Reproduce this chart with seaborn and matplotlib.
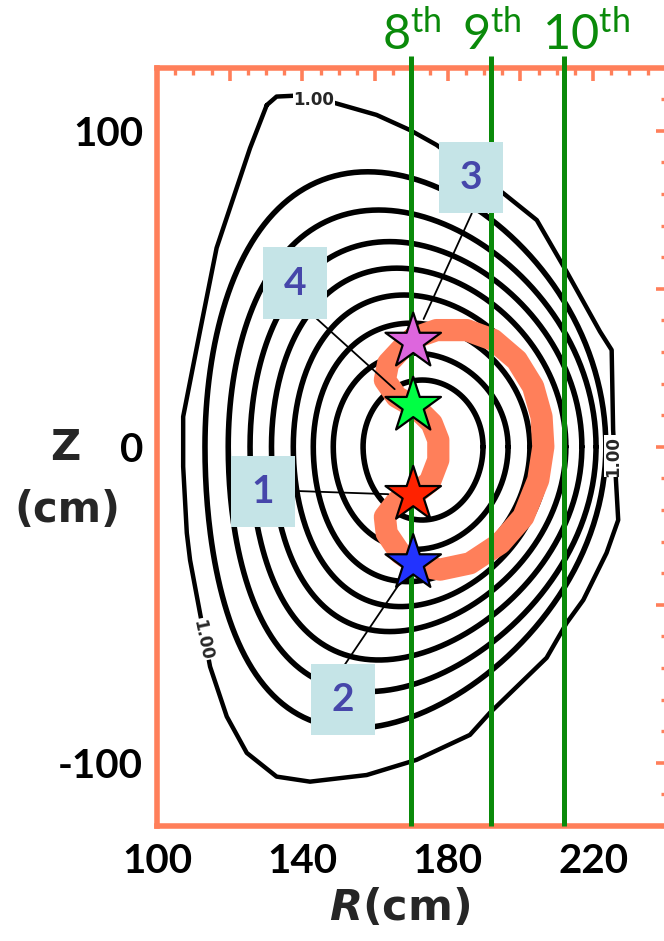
import numpy as np
import pandas as pd
import matplotlib
matplotlib.use("Agg")
import matplotlib.pyplot as plt
from matplotlib.patches import Rectangle
from matplotlib.ticker import FixedLocator, MultipleLocator
import seaborn as sns

# nested flux surfaces, innermost first (cm)
surf_r_in = [156.7, 148.5, 143.0, 137.5, 131.5, 125.6, 119.6, 113.2]
surf_r_out = [189.7, 196.6, 202.6, 207.8, 212.5, 216.9, 220.8, 223.5]
surf_z_top = [21.1, 29.6, 39.1, 48.0, 56.5, 64.9, 74.9, 87.0]
surf_z_bot = [-23.2, -32.5, -42.7, -50.6, -58.5, -67.5, -77.5, -89.1]
surf_r_top = [173, 171, 170, 168, 166, 164, 161, 158]
surf_r_bot = [173, 171, 169, 167, 164, 161, 158, 154]

# last closed surface (labelled 1.00)
lcfs_r = [130.2, 132.9, 138.4, 147.6, 160.4, 169.6, 176.9, 195.3, 204.5, 212.7,
          221.9, 225.1, 225.5, 226.9, 223.7, 217.3, 212.7, 207.2, 191.6, 186.1,
          171.4, 157.7, 142.1, 132.9, 124.7, 119.2, 114.6, 109.1, 108.2, 107.2,
          107.2, 111.8, 116.4, 125.6, 130.2]
lcfs_z = [108.1, 110.8, 111.1, 109.2, 105.0, 100.2, 95.5, 80.2, 71.7, 55.4,
          36.4, 30.6, 5.3, -23.2, -33.6, -48.5, -55.8, -66.8, -84.2, -91.2,
          -99.1, -103.9, -106.0, -104.4, -96.9, -85.4, -69.6, -35.9, -27.3, -6.3,
          9.5, 36.4, 62.9, 94.5, 108.1]

# mode structure (salmon band)
mode_r = [170.5, 176.9, 185.2, 192.5, 199.0, 203.5, 205.8, 206.3, 204.9, 200.8,
          194.4, 186.1, 177.9, 171.4, 166.9, 163.2, 162.7, 165.9, 170.5, 175.1,
          177.4, 177.4, 175.6, 171.4, 165.9, 162.7, 163.6, 167.8, 170.5]
mode_z = [34.3, 36.9, 36.9, 33.8, 27.4, 19.0, 9.5, 0.0, -10.5, -22.2,
          -30.6, -36.9, -38.9, -37.4, -33.7, -27.4, -22.2, -17.4, -15.3, -11.1,
          -4.2, 2.1, 7.4, 12.2, 15.8, 21.1, 26.4, 31.6, 34.3]

# ECE harmonic chords
chord_r = [170, 192, 212]
chord_names = ["8", "9", "10"]

# marked points
point_names = ["1", "2", "3", "4"]
point_r = [170.5, 170.5, 170.5, 170.5]
point_z = [-15.3, -36.9, 33.2, 12.9]
point_colors = ["#FF2200", "#2233FF", "#DD66DD", "#00FF44"]

x_tick_labels = [100, 140, 180, 220]
y_tick_labels = [-100, 0, 100]

salmon = "#FF7F5A"
green = "#0A8A0A"


def miller_surface(r_in, r_out, z_top, z_bot, r_top, r_bot, n=361):
    r0 = (r_in + r_out) / 2
    a = (r_out - r_in) / 2
    d_up = np.arcsin((r0 - r_top) / a)
    d_lo = np.arcsin((r0 - r_bot) / a)
    th = np.linspace(0, 2 * np.pi, n)
    up = th <= np.pi
    d = np.where(up, d_up, d_lo)
    r = r0 + a * np.cos(th + d * np.sin(th))
    z = np.where(up, z_top * np.sin(th), -z_bot * np.sin(th))
    return r, z


sns.set_theme(style="white")
plt.rcParams["font.family"] = ["Lato", "DejaVu Sans"]

fig = plt.figure(figsize=(6.64, 9.41), dpi=100)
ax = fig.add_axes([157 / 664, 115.1 / 941, 511 / 664, 758.4 / 941])

rows = []
for i in range(len(surf_r_in)):
    r, z = miller_surface(surf_r_in[i], surf_r_out[i], surf_z_top[i],
                          surf_z_bot[i], surf_r_top[i], surf_r_bot[i])
    rows.append(pd.DataFrame({"R": r, "Z": z, "surface": i}))
surfaces = pd.concat(rows, ignore_index=True)

sns.lineplot(data=surfaces, x="R", y="Z", units="surface", estimator=None,
             sort=False, color="black", lw=4.0, ax=ax, zorder=2)
sns.lineplot(x=lcfs_r, y=lcfs_z, sort=False, estimator=None, color="black",
             lw=3.2, ax=ax, zorder=2)

# contour labels of the boundary
lab_kw = dict(fontsize=12, fontweight="bold", family="DejaVu Sans", ha="center",
              va="center", zorder=3,
              bbox=dict(facecolor="white", edgecolor="none", pad=0.5))
ax.text(143.2, 109.7, "1.00", rotation=0, **lab_kw)
ax.text(225.6, -3, "1.00", rotation=90, **lab_kw)
ax.text(112.6, -61, "1.00", rotation=-78, **lab_kw)

sns.lineplot(x=mode_r, y=mode_z, sort=False, estimator=None, color=salmon,
             lw=16, ax=ax, zorder=3, solid_joinstyle="round",
             solid_capstyle="round")

ax.vlines(chord_r, -120, 123.5, colors=green, lw=3.6, zorder=4, clip_on=False)
label_shift = [0, 0, 6]
for r, name, dx in zip(chord_r, chord_names, label_shift):
    ax.text(r + dx, 125.5, r"$\mathregular{" + name + "^{th}}$", color=green,
            fontsize=35, ha="center", va="baseline")

# numbered callout boxes with leaders
box_center = {"1": (129.2, -14.1), "2": (151.2, -80.0),
              "3": (186.4, 85.1), "4": (138.0, 51.8)}
leader_start = {"1": (138.0, -14.0), "2": (151.3, -69.6),
                "3": (186.6, 73.8), "4": (142.6, 41.9)}
bw, bh = 17.6, 22.5
for name, r, z in zip(point_names, point_r, point_z):
    cx, cz = box_center[name]
    ax.add_patch(Rectangle((cx - bw / 2, cz - bh / 2), bw, bh,
                           facecolor="#C5E4E7", edgecolor="none", zorder=6))
    ax.text(cx, cz, name, color="#4646AA", fontsize=28, fontweight="bold",
            ha="center", va="center", zorder=7)
    ax.annotate("", xy=(r, z), xytext=leader_start[name],
                arrowprops=dict(arrowstyle="-", color="black", lw=1.3,
                                shrinkA=0, shrinkB=18), zorder=5)

sns.scatterplot(x=point_r, y=point_z, hue=point_names,
                palette=dict(zip(point_names, point_colors)), marker="*",
                s=42 ** 2, edgecolor="black", linewidth=1.6, legend=False,
                ax=ax, zorder=8)

ax.set_xlim(100, 240.6)
ax.set_ylim(-120, 120)

xt = np.arange(100, 241, 20)
ax.xaxis.set_major_locator(FixedLocator(xt))
ax.set_xticklabels([str(t) if t in x_tick_labels else "" for t in xt])
ax.xaxis.set_minor_locator(MultipleLocator(5))
yt = np.arange(-100, 101, 50)
ax.yaxis.set_major_locator(FixedLocator(yt))
ax.set_yticklabels([str(t) if t in y_tick_labels else "" for t in yt])
ax.yaxis.set_minor_locator(MultipleLocator(10))

ax.tick_params(which="both", direction="in", top=True, right=True,
               color=salmon, labelcolor="black")
ax.tick_params(which="major", length=9, width=2.6, labelsize=29)
ax.tick_params(which="minor", length=5, width=2.4)
ax.tick_params(axis="x", pad=12)
ax.tick_params(axis="y", pad=10)
for lab in ax.get_xticklabels() + ax.get_yticklabels():
    lab.set_fontweight("bold")

for sp in ax.spines.values():
    sp.set_color(salmon)
    sp.set_linewidth(4.0)
ax.set_xlabel("")
ax.set_ylabel("")

fig.text(400 / 664, 1 - 908 / 941, r"$\mathbfit{R}$(cm)", fontsize=31,
         fontweight="bold", family="DejaVu Sans", ha="center", va="center")
fig.text(65 / 664, 1 - 448 / 941, "Z", fontsize=30, fontweight="bold",
         family="DejaVu Sans", ha="center", va="center")
fig.text(67 / 664, 1 - 510 / 941, "(cm)", fontsize=30, fontweight="bold",
         family="DejaVu Sans", ha="center", va="center")

fig.savefig("out.png", dpi=100)
